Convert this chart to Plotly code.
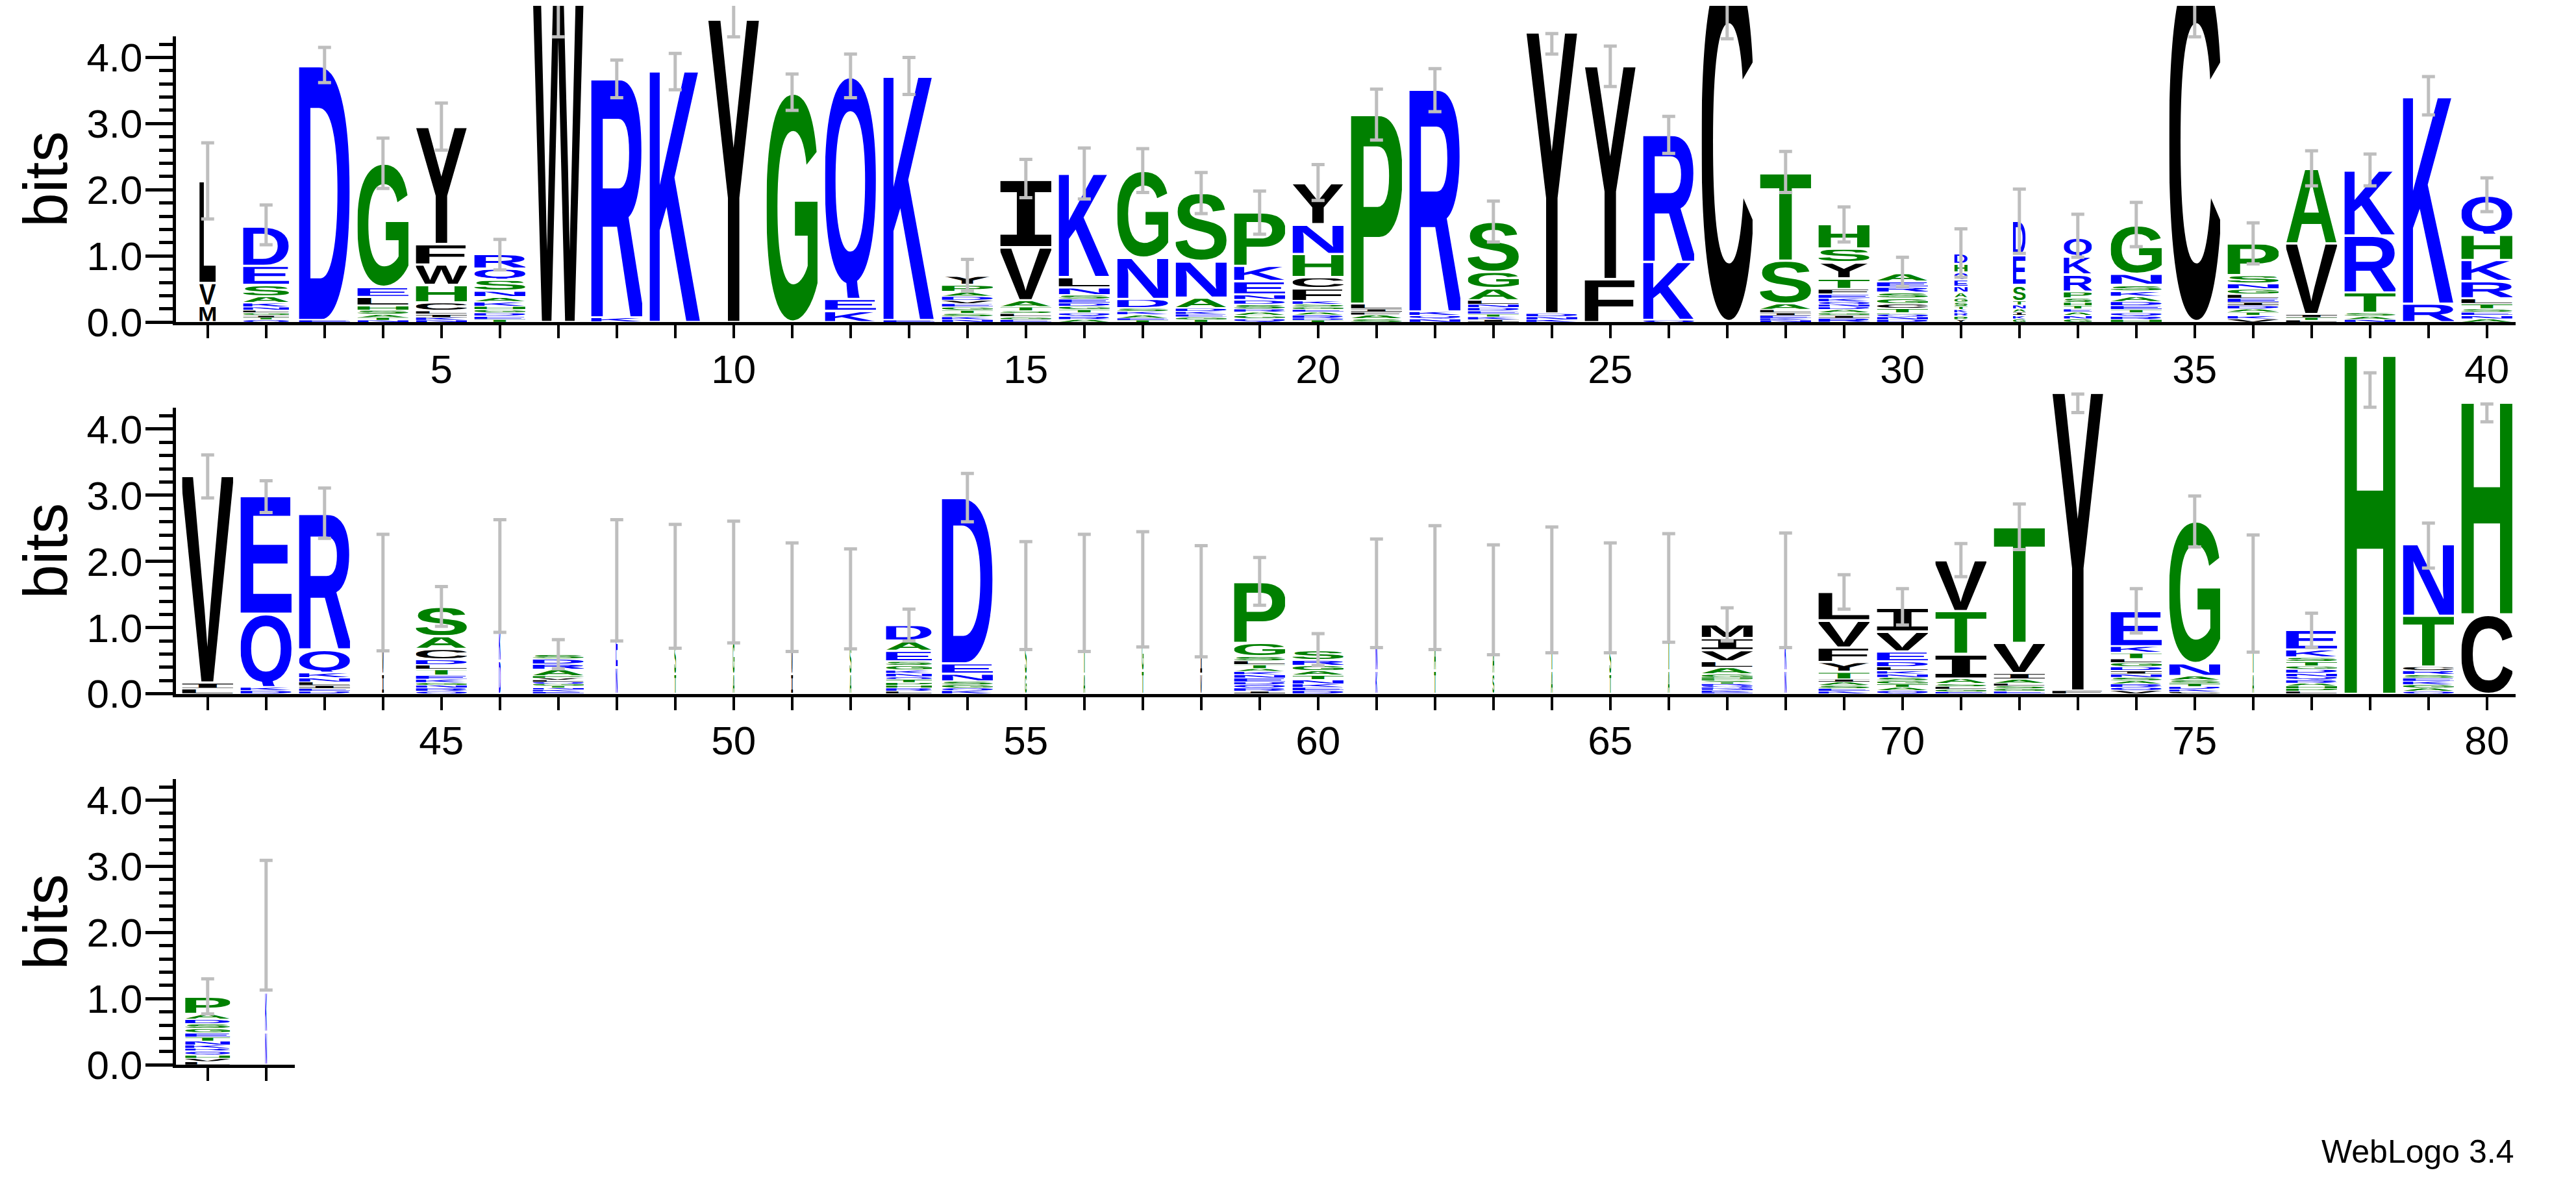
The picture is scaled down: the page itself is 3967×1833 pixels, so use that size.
import base64
import plotly.graph_objects as go

POSITIONS = list(range(1, 83))

# letters of each stack, listed bottom -> top
STACK_LETTERS = [
    "MVL", "QTIGLNKASED", "ED", "NTASHLEG", "NKILCHWFY", "TEDGHKANSQR", "W", "KR", "K", "Y",
    "G", "KEQ", "EK", "NKSTGEVDAPY", "EGLSTAVI", "ARQTGDESNLK", "TEAKSDNG", "TGEKDANS", "QGARSDNEKP", "TDRAEGSKFCHNY",
    "SAFILP", "NQKR", "IKTEDNLAGS", "KNDY", "FY", "QKR", "C", "NKEILAST", "RIGADNQKEFTYSH", "DNQPTCGSREA",
    "YPRKTSGANEQHD", "GKIANTSED", "GNAETHSPRKQ", "HRQTEDAKSNG", "C", "VKTADIELGNSP", "LTIVA", "NASTRK", "RK", "ANESTLRKHQ",
    "LIV", "DKQE", "DEILNKQR", "IVL", "QRNGKETLDCAS", "DKE", "EKNTGQLVPARDS", "NEK", "TSG", "AGS",
    "IVL", "ASG", "LRHPTQNKGSEAD", "KQGSNED", "GSD", "ATS", "TGS", "VIL", "IRQDENKATLSGP", "DEKNTAGRS",
    "KNE", "TAG", "SAG", "ATG", "TSG", "ATS", "EKNDQRTSPHGALVIM", "NKE", "KESAITYFVL", "QATGSNKLDEVI",
    "EGLSAITV", "EGSLAIVT", "FY", "VQRASNIDGLTKE", "CKDTSANG", "ATG", "LPHARQNDGTSKE", "H", "QAGKESRCTN", "CH",
    "LVHQRKNTEGSDAP", "NKE",
]

# information (bits) of each letter, same order as STACK_LETTERS
STACK_BITS = [
    [0.25, 0.34, 1.54],
    [0.04, 0.03, 0.03, 0.04, 0.04, 0.05, 0.06, 0.10, 0.17, 0.29, 0.60],
    [0.03, 3.84],
    [0.03, 0.04, 0.05, 0.06, 0.07, 0.13, 0.15, 1.87],
    [0.03, 0.04, 0.05, 0.05, 0.13, 0.26, 0.31, 0.31, 1.77],
    [0.04, 0.05, 0.05, 0.05, 0.05, 0.07, 0.07, 0.09, 0.17, 0.17, 0.22],
    [5.40],
    [0.07, 3.60],
    [3.79],
    [4.57],
    [3.46],
    [0.17, 0.18, 3.36],
    [0.03, 3.68],
    [0.04, 0.04, 0.05, 0.05, 0.05, 0.05, 0.05, 0.06, 0.07, 0.10, 0.14],
    [0.04, 0.04, 0.05, 0.04, 0.06, 0.10, 0.80, 1.02],
    [0.04, 0.05, 0.05, 0.05, 0.05, 0.05, 0.06, 0.06, 0.11, 0.16, 1.56],
    [0.03, 0.03, 0.05, 0.05, 0.05, 0.14, 0.62, 1.32],
    [0.04, 0.04, 0.04, 0.04, 0.05, 0.16, 0.55, 1.03],
    [0.05, 0.05, 0.05, 0.05, 0.07, 0.07, 0.08, 0.20, 0.23, 0.81],
    [0.03, 0.03, 0.05, 0.04, 0.04, 0.04, 0.04, 0.05, 0.19, 0.17, 0.35, 0.45, 0.62],
    [0.05, 0.06, 0.04, 0.05, 0.08, 2.85],
    [0.05, 0.05, 0.06, 3.35],
    [0.04, 0.04, 0.04, 0.05, 0.05, 0.05, 0.06, 0.18, 0.25, 0.76],
    [0.04, 0.04, 0.05, 4.25],
    [0.65, 3.22],
    [0.03, 0.88, 1.92],
    [5.40],
    [0.03, 0.03, 0.04, 0.04, 0.05, 0.09, 0.65, 1.33],
    [0.06, 0.04, 0.04, 0.05, 0.04, 0.04, 0.04, 0.05, 0.06, 0.08, 0.16, 0.24, 0.21, 0.37],
    [0.04, 0.04, 0.04, 0.02, 0.07, 0.07, 0.08, 0.09, 0.08, 0.08, 0.13],
    [0.04, 0.05, 0.05, 0.05, 0.05, 0.06, 0.07, 0.08, 0.09, 0.10, 0.11, 0.13, 0.16],
    [0.05, 0.05, 0.05, 0.05, 0.06, 0.06, 0.24, 0.45, 0.52],
    [0.05, 0.05, 0.05, 0.05, 0.05, 0.05, 0.06, 0.10, 0.26, 0.27, 0.30],
    [0.04, 0.05, 0.05, 0.05, 0.06, 0.06, 0.08, 0.08, 0.09, 0.17, 0.73],
    [5.40],
    [0.05, 0.05, 0.05, 0.05, 0.05, 0.05, 0.06, 0.06, 0.08, 0.08, 0.13, 0.48],
    [0.03, 0.04, 0.05, 1.07, 1.13],
    [0.04, 0.05, 0.05, 0.31, 0.86, 0.98],
    [0.28, 3.12],
    [0.05, 0.05, 0.05, 0.05, 0.08, 0.08, 0.26, 0.32, 0.38, 0.60],
    [0.08, 0.09, 3.12],
    [0.05, 0.05, 1.11, 1.78],
    [0.04, 0.04, 0.05, 0.05, 0.06, 0.08, 0.35, 2.05],
    [0.30, 0.50, 0.74],
    [0.04, 0.05, 0.04, 0.04, 0.05, 0.06, 0.09, 0.07, 0.08, 0.16, 0.19, 0.45],
    [0.50, 0.50, 0.78],
    [0.03, 0.03, 0.03, 0.03, 0.03, 0.03, 0.03, 0.03, 0.03, 0.10, 0.08, 0.08, 0.07],
    [0.40, 0.60, 0.80],
    [0.30, 0.50, 0.83],
    [0.30, 0.50, 0.89],
    [0.30, 0.45, 0.70],
    [0.30, 0.43, 0.70],
    [0.04, 0.05, 0.04, 0.04, 0.05, 0.04, 0.05, 0.05, 0.07, 0.06, 0.16, 0.15, 0.24],
    [0.05, 0.04, 0.05, 0.05, 0.11, 0.16, 2.50],
    [0.30, 0.50, 0.69],
    [0.30, 0.50, 0.72],
    [0.35, 0.50, 0.73],
    [0.30, 0.40, 0.71],
    [0.04, 0.05, 0.05, 0.04, 0.06, 0.05, 0.05, 0.04, 0.06, 0.06, 0.07, 0.20, 0.92],
    [0.05, 0.05, 0.05, 0.06, 0.07, 0.07, 0.08, 0.08, 0.15],
    [0.35, 0.50, 0.67],
    [0.35, 0.50, 0.77],
    [0.30, 0.45, 0.68],
    [0.35, 0.50, 0.73],
    [0.30, 0.45, 0.70],
    [0.35, 0.50, 0.75],
    [0.025, 0.025, 0.025, 0.025, 0.025, 0.025, 0.025, 0.025, 0.025, 0.025, 0.05, 0.10, 0.09, 0.17, 0.18, 0.21],
    [0.35, 0.50, 0.71],
    [0.04, 0.04, 0.05, 0.05, 0.04, 0.11, 0.15, 0.22, 0.41, 0.43],
    [0.05, 0.05, 0.05, 0.05, 0.05, 0.05, 0.05, 0.06, 0.08, 0.15, 0.30, 0.36],
    [0.03, 0.04, 0.04, 0.04, 0.08, 0.37, 0.65, 0.77],
    [0.04, 0.04, 0.04, 0.04, 0.06, 0.09, 0.46, 1.75],
    [0.05, 4.50],
    [0.05, 0.05, 0.05, 0.05, 0.05, 0.05, 0.05, 0.06, 0.06, 0.06, 0.09, 0.10, 0.54],
    [0.03, 0.04, 0.04, 0.05, 0.05, 0.06, 0.19, 2.15],
    [0.30, 0.50, 0.72],
    [0.04, 0.04, 0.04, 0.04, 0.05, 0.05, 0.05, 0.06, 0.05, 0.07, 0.06, 0.12, 0.30],
    [5.11],
    [0.04, 0.05, 0.05, 0.05, 0.05, 0.05, 0.06, 0.06, 0.77, 1.08],
    [1.20, 3.20],
    [0.05, 0.05, 0.05, 0.06, 0.04, 0.05, 0.06, 0.06, 0.06, 0.07, 0.07, 0.07, 0.08, 0.26],
    [0.50, 0.60, 1.02],
]

# fraction of non-gap sequences (scales the stack width)
STACK_WIDTH = [
    0.32, 0.90, 1.0, 1.0, 1.0, 1.0, 1.0, 1.0, 1.0, 1.0,
    1.0, 1.0, 1.0, 1.0, 1.0, 1.0, 1.0, 1.0, 1.0, 1.0,
    1.0, 1.0, 1.0, 1.0, 1.0, 1.0, 1.0, 1.0, 1.0, 1.0,
    0.26, 0.25, 0.55, 1.0, 1.0, 1.0, 1.0, 1.0, 1.0, 1.0,
    1.0, 1.0, 1.0, 0.04, 1.0, 0.04, 1.0, 0.04, 0.04, 0.04,
    0.04, 0.04, 0.90, 1.0, 0.04, 0.04, 0.04, 0.04, 1.0, 1.0,
    0.04, 0.04, 0.04, 0.04, 0.04, 0.04, 1.0, 0.04, 1.0, 1.0,
    1.0, 1.0, 1.0, 1.0, 1.0, 0.04, 1.0, 1.0, 1.0, 1.0,
    0.88, 0.04,
]

# error bar ends (bits)
ERR_HI = [
    2.71, 1.77, 4.15, 2.78, 3.31, 1.25, 5.30, 3.96, 4.06, 4.85,
    3.75, 4.05, 4.00, 0.95, 2.46, 2.63, 2.62, 2.26, 1.98, 2.38,
    3.52, 3.83, 1.83, 4.36, 4.17, 3.11, 5.30, 2.58, 1.74, 0.98,
    1.41, 2.01, 1.63, 1.81, 5.30, 1.50, 2.59, 2.54, 3.71, 2.18,
    3.61, 3.22, 3.11, 2.41, 1.62, 2.63, 0.82, 2.63, 2.56, 2.61,
    2.28, 2.19, 1.28, 3.33, 2.30, 2.41, 2.45, 2.24, 2.06, 0.91,
    2.34, 2.54, 2.25, 2.52, 2.28, 2.42, 1.30, 2.43, 1.80, 1.59,
    2.27, 2.87, 4.53, 1.59, 2.99, 2.40, 1.22, 4.85, 2.58, 4.38,
    1.30, 3.09,
]
ERR_LO = [
    1.56, 1.17, 3.62, 2.02, 2.60, 0.79, 4.31, 3.39, 3.51, 4.31,
    3.20, 3.39, 3.44, 0.47, 1.88, 1.86, 1.96, 1.64, 1.33, 1.84,
    2.75, 3.18, 1.21, 4.05, 3.56, 2.55, 4.28, 1.96, 1.21, 0.54,
    0.68, 1.04, 0.98, 1.14, 4.31, 0.88, 2.06, 2.06, 3.13, 1.67,
    2.96, 2.74, 2.35, 0.65, 1.02, 0.93, 0.38, 0.80, 0.69, 0.77,
    0.64, 0.68, 0.80, 2.60, 0.67, 0.64, 0.71, 0.56, 1.34, 0.43,
    0.70, 0.67, 0.59, 0.62, 0.62, 0.78, 0.80, 0.70, 1.28, 1.04,
    1.77, 2.18, 4.25, 0.92, 2.22, 0.63, 0.70, 4.33, 1.90, 4.11,
    0.77, 1.13,
]

ROWS = [(1, 40), (41, 80), (81, 82)]
X_TICK_TEXT = [str(p) if p % 5 == 0 else "" for p in POSITIONS]
Y_TICK_VALUES = [0, 1, 2, 3, 4]
Y_TICK_TEXT = ["0.0", "1.0", "2.0", "3.0", "4.0"]
Y_MINOR_VALUES = [0.2, 0.4, 0.6, 0.8, 1.2, 1.4, 1.6, 1.8, 2.2, 2.4, 2.6, 2.8,
                  3.2, 3.4, 3.6, 3.8, 4.2]
MAX_BITS = 4.32

assert len(STACK_LETTERS) == len(STACK_BITS) == len(STACK_WIDTH) == len(ERR_HI) == len(ERR_LO) == 82
for _l, _b in zip(STACK_LETTERS, STACK_BITS):
    assert len(_l) == len(_b), (_l, _b)

# ---------------- style ----------------
W, H = 3967, 1833
FONT = "Liberation Sans, Arial, Helvetica, sans-serif"
PX_PER_POS = 90.0
PX_PER_BIT = 104.0
AXIS_LEFT_PX = 263.0
FIRST_TICK_OFFSET_PX = 48.8
ROW_RIGHT_PX = [3866.0, 3866.0, 445.5]
ROW_ZERO_PX = [497.0, 1081.0, 1664.0]
ROW_TOP_PX = [0.0, 545.0, 1130.0]
STACK_FULL_WIDTH = 0.87

BLUE, GREEN, BLACK = "#0000FF", "#008000", "#000000"
LETTER_COLOR = {}
for ch in "RKDENQ":
    LETTER_COLOR[ch] = BLUE
for ch in "SGHTAP":
    LETTER_COLOR[ch] = GREEN
for ch in "YVMCLFIW":
    LETTER_COLOR[ch] = BLACK

# glyph ink boxes (x0, x1, y0, y1 in 1/1000 em, Liberation Sans Bold) used to
# stretch each glyph so that its ink fills its cell
GLYPH_BOX = {
    "A": (20, 702, 0, 688), "C": (44, 684, -12, 700), "D": (76, 685, 0, 688),
    "E": (76, 621, 0, 688), "F": (76, 587, 0, 688), "G": (44, 713, -12, 700),
    "H": (71, 651, 0, 688), "K": (87, 722, 0, 688), "L": (76, 583, 0, 688),
    "M": (69, 765, 0, 688), "N": (69, 654, 0, 688), "P": (76, 627, 0, 688),
    "Q": (44, 737, -56, 700), "R": (76, 677, 0, 688), "S": (39, 629, -12, 700),
    "T": (14, 598, 0, 688), "V": (24, 653, 0, 688), "W": (16, 929, 0, 688),
    "Y": (15, 653, 0, 688), "I": (98, 504, 0, 729),
}


def glyph_uri(letter):
    x0, x1, y0, y1 = GLYPH_BOX[letter]
    family = "DejaVu Sans Mono" if letter == "I" else "Liberation Sans, Arial"
    fs = 100000.0 / (y1 - y0)
    base = 100.0 + y0 * fs / 1000.0
    sx = 100000.0 / ((x1 - x0) * fs)
    tx = -x0 * fs / 1000.0
    svg = (
        '<svg xmlns="http://www.w3.org/2000/svg" width="100" height="100" '
        'viewBox="0 0 100 100" preserveAspectRatio="none">'
        f'<text transform="scale({sx:.5f},1)" x="{tx:.3f}" y="{base:.3f}" '
        f'font-family="{family}" font-weight="bold" font-size="{fs:.3f}" '
        f'fill="{LETTER_COLOR[letter]}">{letter}</text></svg>'
    )
    return "data:image/svg+xml;base64," + base64.b64encode(svg.encode("utf-8")).decode("ascii")


GLYPH_URI = {ch: glyph_uri(ch) for ch in GLYPH_BOX}

fig = go.Figure()
layout_axes = {}
images = []

for r, (first, last) in enumerate(ROWS):
    i = r + 1
    xname = "x" if i == 1 else f"x{i}"
    xkey = "xaxis" if i == 1 else f"xaxis{i}"
    disp_name = "y" if i == 1 else f"y{i}"
    disp_key = "yaxis" if i == 1 else f"yaxis{i}"
    data_name = f"y{i + 3}"
    data_key = f"yaxis{i + 3}"

    x_left = first - FIRST_TICK_OFFSET_PX / PX_PER_POS
    x_right = x_left + (ROW_RIGHT_PX[r] - AXIS_LEFT_PX) / PX_PER_POS
    row_pos = [p for p in POSITIONS if first <= p <= last]
    zero_frac = 1.0 - ROW_ZERO_PX[r] / H

    layout_axes[xkey] = dict(
        domain=[AXIS_LEFT_PX / W, ROW_RIGHT_PX[r] / W], range=[x_left, x_right],
        anchor=disp_name, tickmode="array", tickvals=row_pos,
        ticktext=[X_TICK_TEXT[p - 1] for p in row_pos],
        ticks="outside", ticklen=20, tickwidth=4, tickcolor="black",
        showline=True, linewidth=5, linecolor="black",
        showgrid=False, zeroline=False, fixedrange=True,
        tickfont=dict(family=FONT, size=62, color="black"),
        ticklabelstandoff=-6,
    )
    layout_axes[disp_key] = dict(
        domain=[zero_frac, zero_frac + MAX_BITS * PX_PER_BIT / H], range=[0, MAX_BITS],
        anchor=xname, tickmode="array", tickvals=Y_TICK_VALUES, ticktext=Y_TICK_TEXT,
        ticks="outside", ticklen=42, tickwidth=5, tickcolor="black",
        minor=dict(tickmode="array", tickvals=Y_MINOR_VALUES, ticks="outside",
                   ticklen=21, tickwidth=5, tickcolor="black", showgrid=False),
        showline=True, linewidth=5, linecolor="black",
        showgrid=False, zeroline=False, fixedrange=True,
        tickfont=dict(family=FONT, size=62, color="black"),
        ticklabelstandoff=-8,
        title=dict(text="bits", font=dict(family=FONT, size=95, color="black"), standoff=0),
    )
    layout_axes[data_key] = dict(
        domain=[zero_frac, 1.0 - ROW_TOP_PX[r] / H],
        range=[0, (ROW_ZERO_PX[r] - ROW_TOP_PX[r]) / PX_PER_BIT],
        anchor=xname, visible=False, fixedrange=True,
        showgrid=False, zeroline=False,
    )

    # empty trace so that the visible axis pair forms a drawn subplot
    fig.add_trace(go.Scatter(x=[], y=[], xaxis=xname, yaxis=disp_name,
                             showlegend=False, hoverinfo="skip", mode="markers"))

    # letters
    for p in row_pos:
        idx = p - 1
        w = STACK_FULL_WIDTH * STACK_WIDTH[idx]
        cum = 0.0
        for letter, h in zip(STACK_LETTERS[idx], STACK_BITS[idx]):
            pad = min(0.017, 0.12 * h)
            images.append(dict(
                source=GLYPH_URI[letter], xref=xname, yref=data_name,
                x=p - w / 2.0, y=cum + h - pad, sizex=w, sizey=h - 2 * pad,
                sizing="stretch", xanchor="left", yanchor="top", layer="below",
            ))
            cum += h

    # error bars
    centers = [(ERR_HI[p - 1] + ERR_LO[p - 1]) / 2.0 for p in row_pos]
    halves = [(ERR_HI[p - 1] - ERR_LO[p - 1]) / 2.0 for p in row_pos]
    fig.add_trace(go.Scatter(
        x=row_pos, y=centers, mode="markers", xaxis=xname, yaxis=data_name,
        marker=dict(size=1, color="rgba(0,0,0,0)"),
        error_y=dict(type="data", array=halves, visible=True, color="#BEBEBE",
                     thickness=5, width=10),
        showlegend=False, hoverinfo="skip", cliponaxis=False,
    ))

fig.update_layout(
    width=W, height=H, autosize=False,
    margin=dict(l=0, r=0, t=0, b=0, pad=0),
    paper_bgcolor="white", plot_bgcolor="rgba(0,0,0,0)",
    showlegend=False,
    images=images,
    font=dict(family=FONT, color="black"),
    annotations=[dict(
        text="WebLogo 3.4", xref="paper", yref="paper",
        x=ROW_RIGHT_PX[0] / W, y=1.0 - 1800.0 / H, xanchor="right", yanchor="middle",
        showarrow=False, font=dict(family=FONT, size=50, color="black"),
    )],
    **layout_axes,
)

fig.write_html("out.html")
